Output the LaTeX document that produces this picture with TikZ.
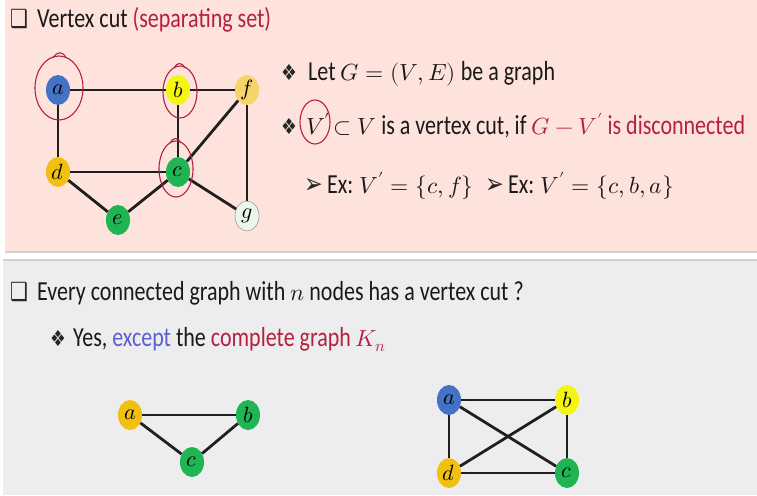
\documentclass[tikz,border=0pt]{standalone}
\usepackage{fontspec}
\usepackage{unicode-math}
\setmainfont{Carlito}[FakeStretch=0.8]
\setmathfont{Latin Modern Math}[Scale=0.85]
\newfontfamily\dingfont{DejaVu Sans}[FakeStretch=0.8]
\usetikzlibrary{shapes.geometric}
\definecolor{slidepink}{HTML}{FDE3DC}
\definecolor{panelgray}{HTML}{EDEDF0}
\definecolor{sepgray}{HTML}{CFCFD6}
\definecolor{inkred}{HTML}{B5203E}
\definecolor{inkblue}{HTML}{5B5FD0}
\definecolor{vblue}{HTML}{4472C4}
\definecolor{vyellow}{HTML}{F5F512}
\definecolor{vgold}{HTML}{F2C011}
\definecolor{vlgold}{HTML}{F7D36C}
\definecolor{vgreen}{HTML}{1FB552}
\definecolor{vpale}{HTML}{ECF6EA}
\begin{document}
\begin{tikzpicture}[x=1pt,y=-1pt,
  vert/.style={ellipse,minimum width=24pt,minimum height=30pt,inner sep=0pt,
    font=\fontsize{26}{26}\selectfont},
  edge/.style={line width=2.8pt,draw=black!88},
  redring/.style={draw=inkred,line width=1.1pt},
  txt/.style={anchor=base west,inner sep=0pt,font=\fontsize{27.5}{30}\selectfont,text=black!90},
  ding/.style={anchor=base west,inner sep=0pt,font=\dingfont\fontsize{22}{22}\selectfont,text=black!85},
  arrowding/.style={ding,font=\dingfont\fontsize{28}{28}\selectfont}]
\useasboundingbox (0,0) rectangle (757,495);
\fill[white] (0,0) rectangle (757,495);
\fill[slidepink] (5,0) rectangle (757,251);
\fill[black!18] (5,251) rectangle (757,253);
\fill[sepgray] (3,259) rectangle (757,261);
\fill[panelgray] (3,261) rectangle (757,495);

% vertex cut example
\node[ding,font=\dingfont\fontsize{25}{25}\selectfont] (tbox) at (10,28) {❑};
\node[txt] (ttl) at (37,28) {Vertex cut \textcolor{inkred}{(separating set)}};

\node[vert,fill=vblue] (a) at (58,90) {$a$};
\node[vert,fill=vyellow] (b) at (178,90) {$b$};
\node[vert,fill=vlgold] (f) at (247,90) {$f$};
\node[vert,fill=vgold] (d) at (58,172) {$d$};
\node[vert,fill=vgreen] (c) at (178,172) {$c$};
\node[vert,fill=vgreen] (e) at (118,220) {$e$};
\node[vert,fill=vpale,draw=black!40,line width=0.6pt] (g) at (247,216) {$g$};

\draw[edge] (a)--(b);
\draw[edge] (b)--(f);
\draw[edge] (a)--(d);
\draw[edge] (b)--(c);
\draw[edge] (d)--(c);
\draw[edge] (c)--(f);
\draw[edge] (d)--(e);
\draw[edge] (e)--(c);
\draw[edge] (c)--(g);
\draw[edge] (f)--(g);

\draw[redring] (59,88) ellipse [x radius=24pt, y radius=32pt];
\draw[redring] (53,58) .. controls (57,51) and (63,51) .. (66,58);
\draw[redring] (180,92) ellipse [x radius=17pt, y radius=26pt];
\draw[redring] (174,68) .. controls (177,62) and (182,62) .. (185,68);
\draw[redring] (176,169) ellipse [x radius=17pt, y radius=28pt];
\draw[redring] (170,143) .. controls (173,137) and (178,137) .. (181,143);

\node[ding] (b1) at (281,80) {❖};
\node[txt] (l1) at (308,80) {Let $G=(V,E)$ be a graph};
\node[ding] (b2) at (281,134) {❖};
\node[txt] (l2) at (306,134) {$V'\!\subset V$ is a vertex cut, if \textcolor{inkred}{$G-V'$ is disconnected}};
\draw[redring] (315,122) ellipse [x radius=15pt, y radius=22pt];
\node[arrowding] (b3) at (304,193) {➢};
\node[txt] (l3) at (327,193) {Ex: $V'=\{c,f\}$};
\node[arrowding] (b4) at (485,193) {➢};
\node[txt] (l4) at (508,193) {Ex: $V'=\{c,b,a\}$};

% complete graphs
\node[ding,font=\dingfont\fontsize{25}{25}\selectfont] (qbox) at (10,300) {❑};
\node[txt] (q) at (37,300) {Every connected graph with $n$ nodes has a vertex cut ?};
\node[ding] (b5) at (50,346) {❖};
\node[txt] (yes) at (73,346) {Yes, \textcolor{inkblue}{except} the \textcolor{inkred}{complete graph $K_n$}};

\node[vert,fill=vgold] (ta) at (130,415) {$a$};
\node[vert,fill=vgreen] (tb) at (248,415) {$b$};
\node[vert,fill=vgreen] (tc) at (192,462) {$c$};
\draw[edge] (ta)--(tb);
\draw[edge] (ta)--(tc);
\draw[edge] (tb)--(tc);

\node[vert,fill=vblue] (ka) at (449,400) {$a$};
\node[vert,fill=vyellow] (kb) at (567,400) {$b$};
\node[vert,fill=vgold] (kd) at (449,473) {$d$};
\node[vert,fill=vgreen] (kc) at (567,473) {$c$};
\draw[edge] (ka)--(kb);
\draw[edge] (ka)--(kd);
\draw[edge] (ka)--(kc);
\draw[edge] (kb)--(kd);
\draw[edge] (kb)--(kc);
\draw[edge] (kd)--(kc);
\end{tikzpicture}
\end{document}
